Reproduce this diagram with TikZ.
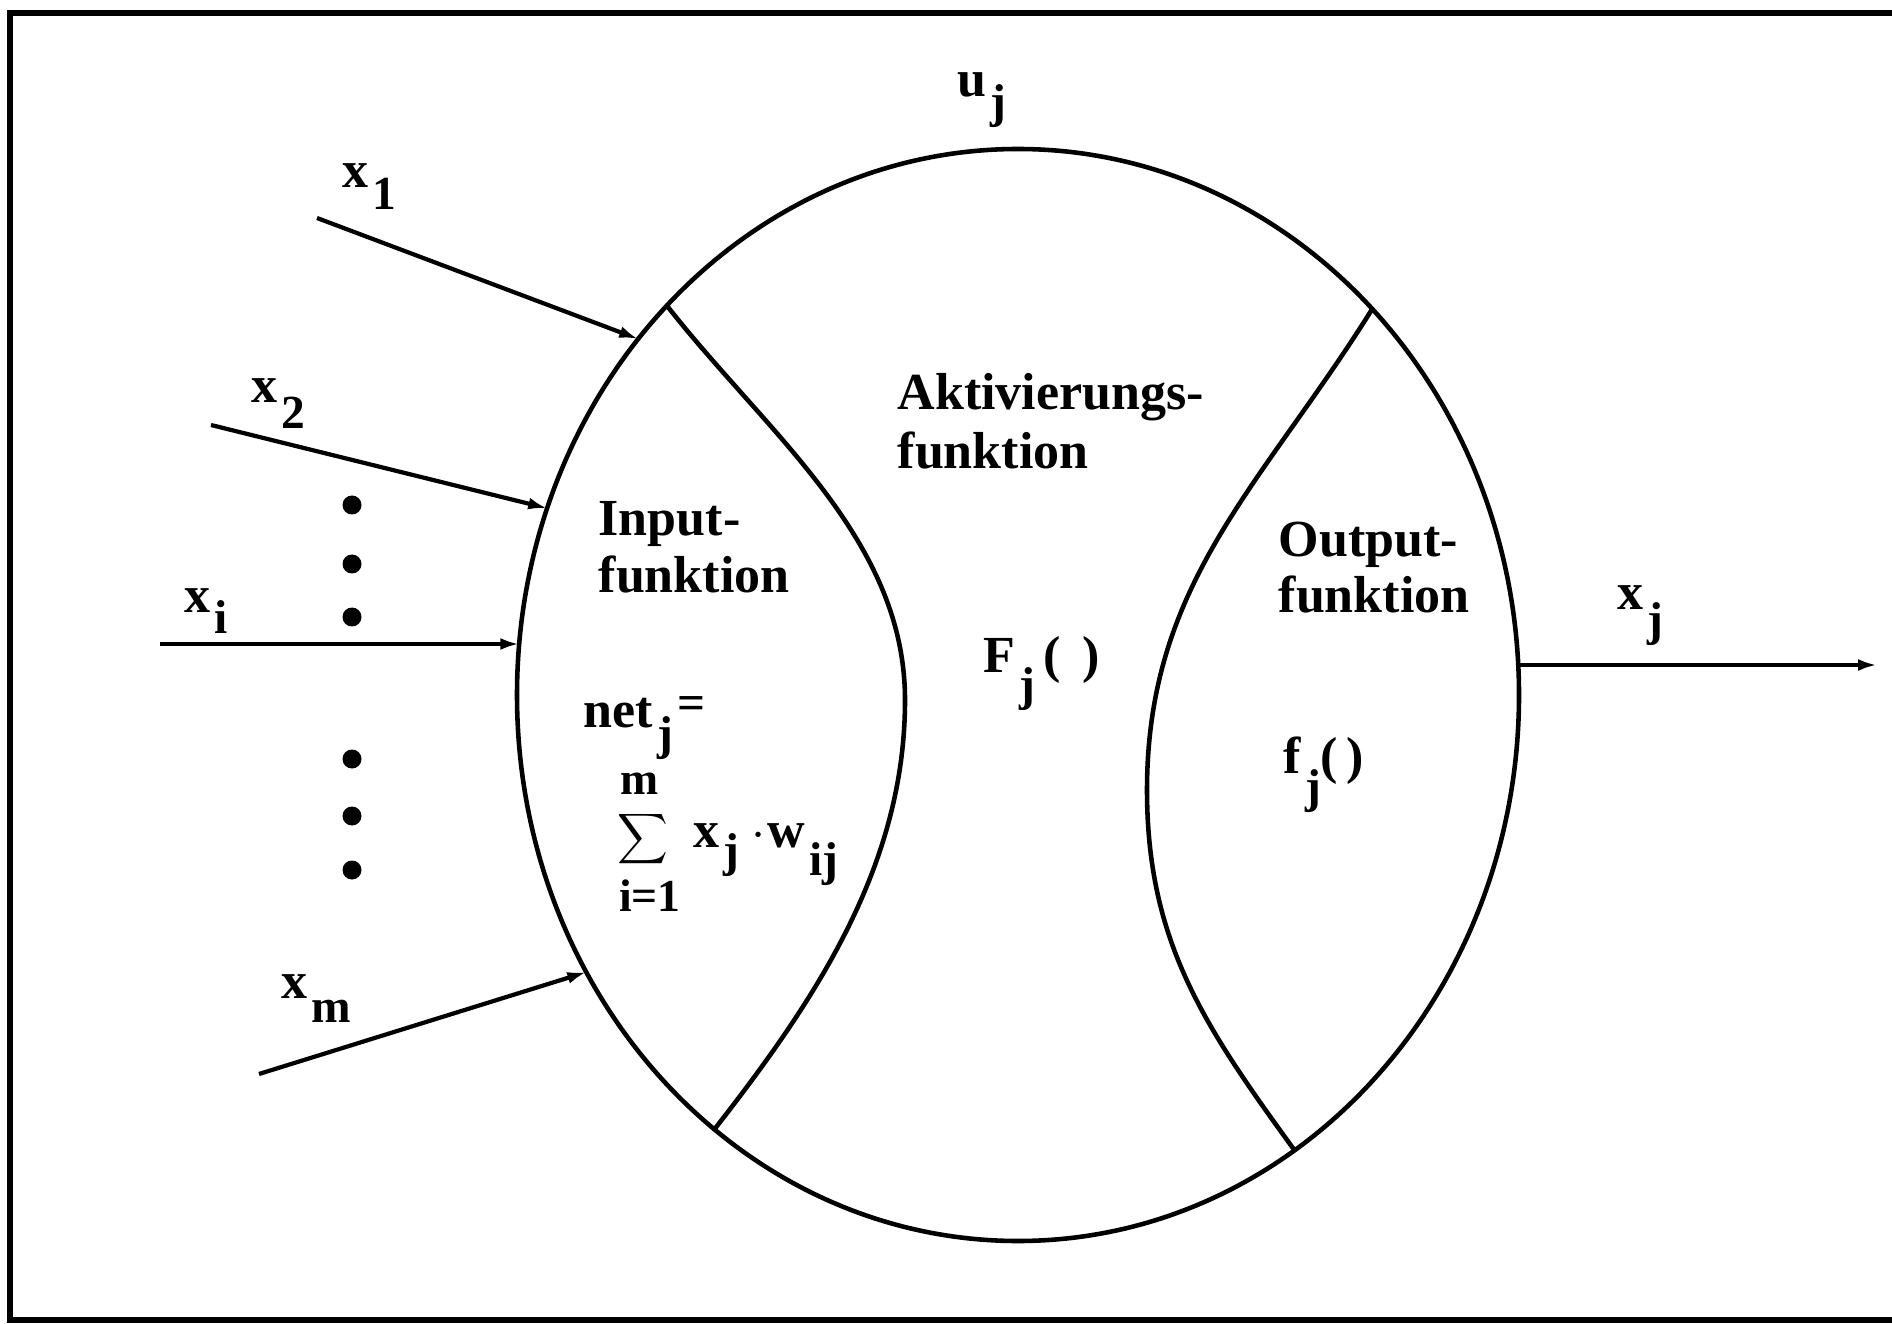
\documentclass[tikz,border=0pt]{standalone}
\usepackage{fontspec}
\setmainfont{Liberation Serif}
\usetikzlibrary{arrows.meta,calc}

\newcommand{\subsize}{\fontsize{13.5}{13.5}\selectfont}
\newcommand{\lowsub}[3][2.4mm]{#2\kern0.4mm\raisebox{-#1}{\subsize #3}}

\begin{document}
\begin{tikzpicture}[x=0.1mm,y=0.1mm,
  lbl/.style={anchor=base west,inner sep=0pt,font=\fontsize{14.8}{16}\selectfont\bfseries},
  rim/.style={line width=1.3pt},
  ar/.style={-{Latex[length=1.9mm,width=1.2mm]},line width=1.2pt},
  blob/.style={circle,fill=black,inner sep=0pt,minimum size=1.9mm}]
\useasboundingbox (0,0) rectangle (1892,1323);
% ---- frame, right side cut off
\draw[line width=1.5pt] (1892,1310) -- (10,1310) -- (10,3) -- (1892,3);
% ---- neuron
\coordinate (c) at (1018,628);
\draw[rim] (c) ellipse [x radius=501,y radius=546];
\coordinate (lt) at ($(c)+(134.5:501 and 546)$);
\coordinate (lb) at ($(c)+(232.7:501 and 546)$);
\coordinate (rt) at ($(c)+(45:501 and 546)$);
\coordinate (rb) at ($(c)+(-56.5:501 and 546)$);
\draw[rim] (lt) to[out=-52,in=90,looseness=0.9] (905,623) to[out=-90,in=52,looseness=0.9] (lb);
\draw[rim] (rt) to[out=-122,in=90] (1147,533) to[out=-90,in=126] (rb);
% ---- inputs
\coordinate (s1) at (317,1105);
\coordinate (s2) at (211,898);
\coordinate (s3) at (160,679);
\coordinate (s4) at (259,249);
\coordinate (t1) at ($(c)+(139.3:501 and 546)$);
\coordinate (t2) at ($(c)+(160:501 and 546)$);
\coordinate (t3) at ($(c)+(174.6:501 and 546)$);
\coordinate (t4) at ($(c)+(210.5:501 and 546)$);
\draw[ar] (s1) -- (t1);
\draw[ar] (s2) -- (t2);
\draw[ar] (s3) -- (s3 -| t3);
\draw[ar] (s4) -- (t4);
\foreach \y/\n in {818/1,759/2,706/3,564/4,507/5,453/6}{\node[blob] (d\n) at (352,\y) {};}
% ---- output
\coordinate (t5) at ($(c)+(3.15:501 and 546)$);
\coordinate (e5) at (1877,658);
\draw[ar] (t5) -- (t5 -| e5);
% ---- labels
\node[lbl] (x1) at (342,1135) {\lowsub[2.2mm]{x}{1}};
\node[lbl] (x2) at (251,920) {\lowsub[2.6mm]{x}{2}};
\node[lbl] (xi) at (184,711) {\lowsub[2.2mm]{x}{i}};
\node[lbl] (xm) at (281,325) {\lowsub[2.4mm]{x}{m}};
\node[lbl] (uj) at (957,1226) {\lowsub[2.1mm]{u}{j}};
\node[lbl] (xj) at (1617,713) {\lowsub[2.6mm]{x}{j}};
\node[lbl] (inp1) at (598,788) {Input-};
\node[lbl] (inp2) at (598,730) {funktion};
\node[lbl] (akt1) at (897,913) {Aktivierungs-};
\node[lbl] (akt2) at (897,854) {funktion};
\node[lbl] (out1) at (1278,767) {Output-};
\node[lbl] (out2) at (1278,711) {funktion};
\node[lbl] (Fj) at (983,651) {\lowsub[2.9mm]{F}{j}\kern0.8mm(\kern2.2mm)};
\node[lbl] (fj) at (1283,550) {\lowsub[2.9mm]{f}{j}(\kern0.8mm)};
% ---- net input
\node[lbl] (net) at (583,596) {\lowsub[2.2mm]{net}{j}\kern0.5mm\raisebox{0.8mm}{\fontsize{14}{14}\selectfont =}};
\node[lbl,anchor=base,font=\fontsize{13}{13}\selectfont\bfseries] (lim1) at (640,529) {m};
\node[inner sep=0pt] (sig) at (643,484) {$\displaystyle\sum$};
\node[lbl,anchor=base,font=\fontsize{13}{13}\selectfont\bfseries] (lim2) at (650,412) {i=1};
\node[lbl] (xw) at (693,476) {\lowsub[1.9mm]{x}{j}\kern1.2mm$\cdot$\kern0.2mm\lowsub[2.8mm]{w}{ij}};
\end{tikzpicture}
\end{document}
